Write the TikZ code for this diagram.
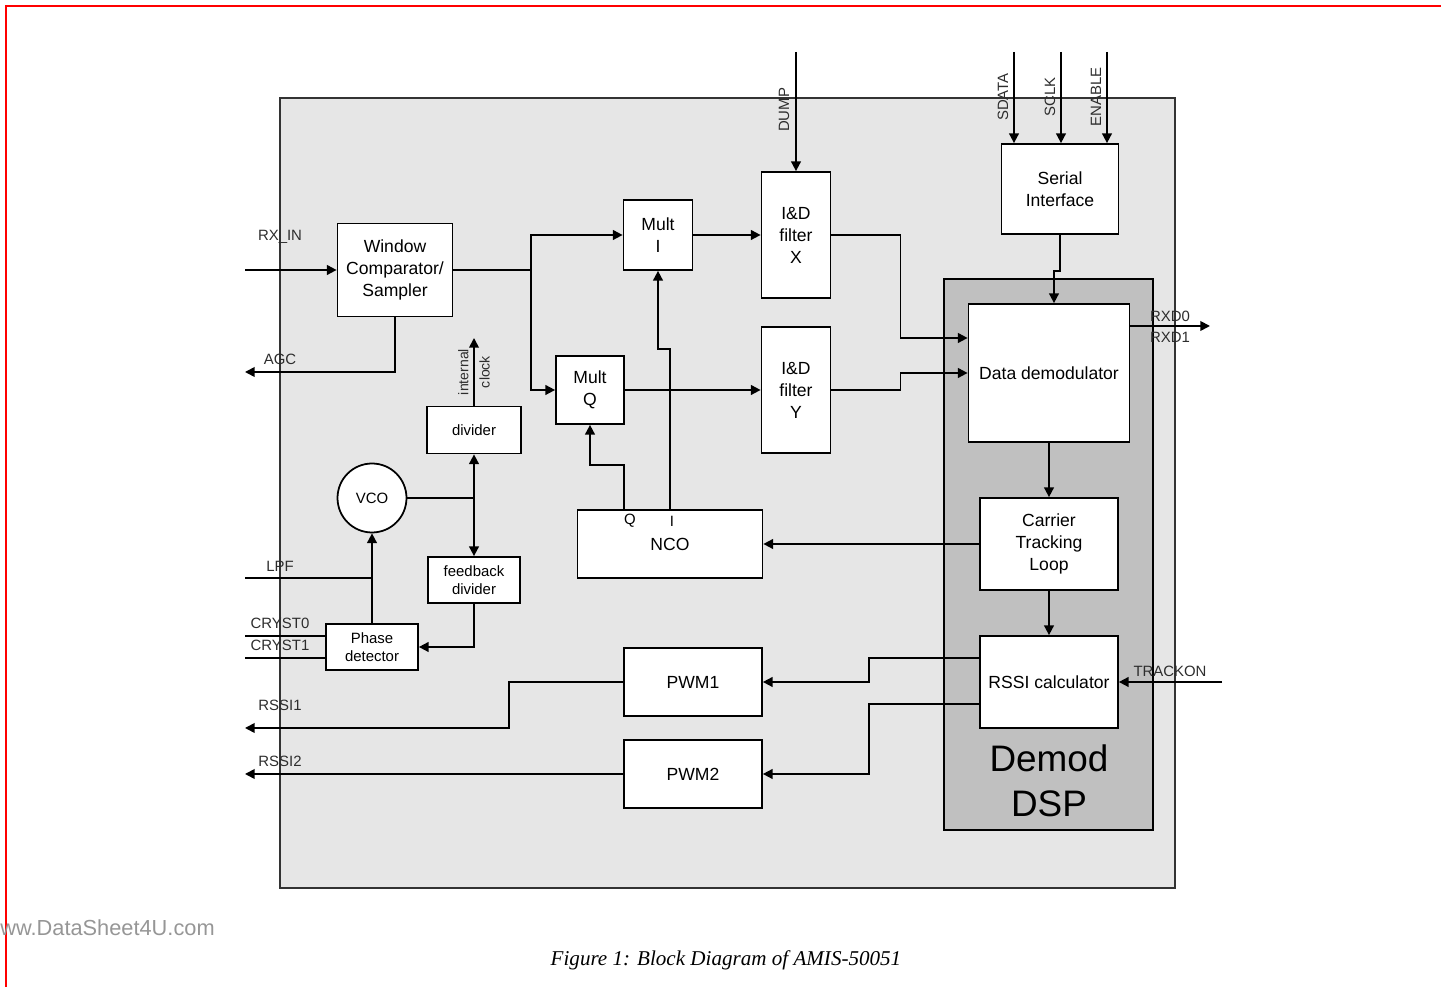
\documentclass[tikz,border=0pt]{standalone}
\usepackage{fontspec}
\setmainfont{Liberation Sans}
\newfontfamily\capfont{Liberation Serif}
\usetikzlibrary{arrows.meta,calc}
\definecolor{chipgray}{RGB}{230,230,230}
\definecolor{dspgray}{RGB}{192,192,192}
\definecolor{framered}{RGB}{255,0,0}
\definecolor{labelgray}{RGB}{45,45,45}
\definecolor{markgray}{RGB}{150,150,150}

\begin{document}
\begin{tikzpicture}[
  x=0.02cm, y=0.02cm,
  font=\fontsize{10}{12.5}\selectfont,
  blk/.style={draw, line width=1pt, fill=white, align=center, inner sep=0pt},
  small/.style={font=\fontsize{8.5}{10.2}\selectfont},
  pin/.style={font=\fontsize{8.5}{10}\selectfont, text=labelgray, inner sep=0pt},
  wire/.style={line width=1pt},
  arr/.style={wire, -{Triangle[length=5.5pt,width=5.5pt]}},
  darr/.style={wire, {Triangle[length=5.5pt,width=5.5pt]}-{Triangle[length=5.5pt,width=5.5pt]}}
]
\useasboundingbox (0,0) rectangle (1441,987);
% page frame
\draw[framered, line width=1.2pt] (6,0) -- (6,981) -- (1441,981);
% chip outline and DSP block
\draw[black!80, line width=1.4pt, fill=chipgray] (280,99) rectangle (1175,889);
\draw[line width=1pt, fill=dspgray] (944,157) rectangle (1153,708);
\node[font=\fontsize{21}{25.5}\selectfont, align=center] (dsp) at (1049,206) {Demod\\DSP};

% blocks
\node[blk, minimum width=2.30cm, minimum height=1.86cm] (win) at (395,717) {Window\\Comparator/\\Sampler};
\node[blk, minimum width=1.38cm, minimum height=1.40cm] (multi) at (658,752) {Mult\\I};
\node[blk, minimum width=1.36cm, minimum height=1.36cm] (multq) at (590,597) {Mult\\Q};
\node[blk, minimum width=1.38cm, minimum height=2.52cm] (idx) at (796,752) {I\&D\\filter\\X};
\node[blk, minimum width=1.38cm, minimum height=2.52cm] (idy) at (796,597) {I\&D\\filter\\Y};
\node[blk, minimum width=2.34cm, minimum height=1.80cm] (serial) at (1060,798) {Serial\\Interface};
\node[blk, minimum width=3.22cm, minimum height=2.76cm] (demod) at (1049,614) {Data demodulator};
\node[blk, minimum width=2.76cm, minimum height=1.84cm] (ctl) at (1049,443) {Carrier\\Tracking\\Loop};
\node[blk, minimum width=2.76cm, minimum height=1.84cm] (rssi) at (1049,305) {RSSI calculator};
\node[blk, minimum width=3.70cm, minimum height=1.36cm] (nco) at (670,443) {NCO};
\node[blk, minimum width=2.76cm, minimum height=1.36cm] (pwm1) at (693,305) {PWM1};
\node[blk, minimum width=2.76cm, minimum height=1.36cm] (pwm2) at (693,213) {PWM2};
\node[blk, small, minimum width=1.88cm, minimum height=0.94cm] (div) at (474,557) {divider};
\node[blk, small, minimum width=1.84cm, minimum height=0.92cm] (fbdiv) at (474,407) {feedback\\divider};
\node[blk, small, minimum width=1.84cm, minimum height=0.92cm] (phase) at (372,340) {Phase\\detector};
\node[blk, circle, small, minimum size=1.38cm] (vco) at (372,489) {VCO};
\node[small, inner sep=0pt] (qlbl) at (630,466) {Q};
\node[small, inner sep=0pt] (ilbl) at (672,466) {I};

% receiver input
\coordinate (rxin) at (245,717);
\draw[arr] (rxin) -- (win.west);
\node[pin] (rxinlbl) at (280,750) {RX\_IN};
\coordinate (split) at (531,717);
\draw[wire] (win.east) -- (split);
\draw[arr] (split) |- (multi.west);
\draw[arr] (split) |- (multq.west);
\coordinate (agc) at (245,615);
\draw[arr] (win.south) |- (agc);
\node[pin] (agclbl) at (280,628) {AGC};

% I/Q paths
\draw[arr] (multi.east) -- (idx.west);
\draw[arr] (multq.east) -- (idy.west);
\coordinate (dump) at (796,935);
\draw[arr] (dump) -- (idx.north);
\node[pin, rotate=90] (dumplbl) at (784,877) {DUMP};
\draw[arr] (idx.east) -- ++(69,0) |- ($(demod.west)+(0,35)$);
\draw[arr] (idy.east) -- ++(69,0) |- (demod.west);

% serial interface
\foreach \x/\name in {1014/SDATA,1061/SCLK,1107/ENABLE} {
  \coordinate (in\name) at (\x,935);
  \draw[arr] (in\name) -- (in\name |- serial.north);
  \node[pin, rotate=90] (lbl\name) at (\x-11,890) {\name};
}
\draw[arr] (serial.south) -- ++(0,-36) -| ($(demod.north)+(5,0)$);

% demod DSP
\coordinate (rxd) at (1210,661);
\draw[arr] ($(demod.east)+(0,47)$) -- (rxd);
\node[pin] (rxd0lbl) at (1170,671) {RXD0};
\node[pin] (rxd1lbl) at (1170,650) {RXD1};
\draw[arr] (demod.south) -- (ctl.north);
\draw[arr] (ctl.south) -- (rssi.north);
\draw[arr] (ctl.west) -- (nco.east);
\draw[arr] ($(nco.north)+(-46,0)$) -- ++(0,44) -| (multq.south);
\draw[arr] (nco.north) -- ++(0,160) -| (multi.south);
\coordinate (trackon) at (1222,305);
\draw[arr] (trackon) -- (rssi.east);
\node[pin] (trackonlbl) at (1170,316) {TRACKON};

% RSSI outputs
\draw[arr] ($(rssi.west)+(0,24)$) -- ++(-110,0) |- (pwm1.east);
\draw[arr] ($(rssi.west)+(0,-22)$) -- ++(-110,0) |- (pwm2.east);
\coordinate (rssi1) at (245,259);
\draw[arr] (pwm1.west) -- ++(-114,0) |- (rssi1);
\node[pin] (rssi1lbl) at (280,282) {RSSI1};
\coordinate (rssi2) at (245,213);
\draw[arr] (pwm2.west) -- (rssi2);
\node[pin] (rssi2lbl) at (280,226) {RSSI2};

% clock generation
\draw[darr] (div.south) -- (fbdiv.north);
\draw[wire] (vco.east) -- (vco.east -| div.south);
\coordinate (clk) at (474,649);
\draw[arr] (div.north) -- (clk);
\node[pin, rotate=90, align=center, font=\fontsize{8}{12}\selectfont] (clklbl) at (474,615) {internal\\clock};
\draw[arr] (fbdiv.south) |- (phase.east);
\draw[arr] (phase.north) -- (vco.south);
\coordinate (lpf) at (245,409);
\draw[wire] (lpf) -- (lpf -| vco.south);
\node[pin] (lpflbl) at (280,421) {LPF};
\foreach \dy/\name in {11/CRYST0,-11/CRYST1} {
  \coordinate (c\name) at (245,340+\dy);
  \draw[wire] (c\name) -- (c\name -| phase.west);
  \node[pin] (lbl\name) at (280,353+\dy) {\name};
}

% caption and watermark
\node[font=\capfont\itshape\fontsize{12}{14}\selectfont] (caption) at (726,27) {Figure 1: Block Diagram of AMIS-50051};
\node[anchor=west, inner sep=0pt, text=markgray, font=\fontsize{12.4}{15}\selectfont] (mark) at (0,59) {ww.DataSheet4U.com};
\end{tikzpicture}
\end{document}
